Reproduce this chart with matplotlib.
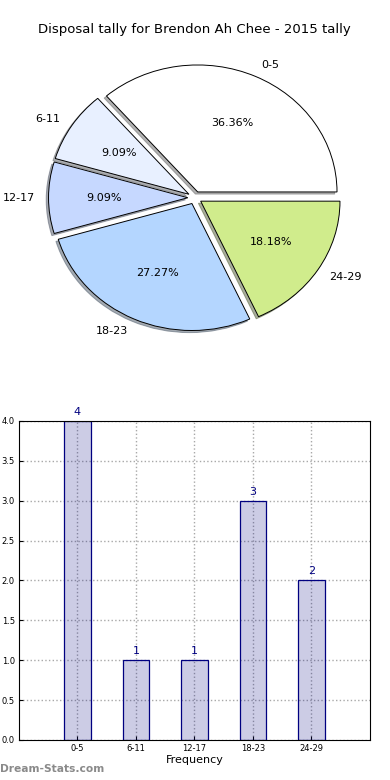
import matplotlib
matplotlib.use("Agg")
import matplotlib.pyplot as plt
import numpy as np

labels = ["0-5", "6-11", "12-17", "18-23", "24-29"]
counts = [4, 1, 1, 3, 2]
colors = ["#ffffff", "#e8f0ff", "#c6d8ff", "#b4d6ff", "#d0ec8c"]

fig = plt.figure(figsize=(3.9, 7.8), dpi=100)

# pie
ax1 = fig.add_axes([0.053, 0.543, 0.893, 0.407])
wedges, texts, autotexts = ax1.pie(counts, labels=labels, colors=colors,
                                   explode=[0.05] * len(counts),
                                   shadow={"ox": -0.012, "oy": -0.012, "shade": 0.6},
                                   autopct="%1.2f%%", startangle=0,
                                   wedgeprops=dict(edgecolor="black", linewidth=0.7),
                                   textprops=dict(fontsize=8))
ax1.set_aspect("auto")
ax1.set_xlim(-1.25, 1.25)
ax1.set_ylim(-1.25, 1.25)
ax1.set_title("Disposal tally for Brendon Ah Chee - 2015 tally", fontsize=9.5, pad=4)

# bars
ax2 = fig.add_axes([0.0487, 0.0513, 0.9, 0.409])
x = np.arange(len(labels))
ax2.bar(x, counts, width=0.45, facecolor=(0, 0, 0.5, 0.2),
        edgecolor="navy", linewidth=0.9, zorder=2)
for xi, c in zip(x, counts):
    ax2.text(xi, c + 0.05, str(c), ha="center", va="bottom", color="navy", fontsize=8)
ax2.set_xlim(-1, 5)
ax2.set_ylim(0, 4)
ax2.set_xticks(x)
ax2.set_xticklabels(labels)
ax2.set_yticks(np.arange(0, 4.01, 0.5))
ax2.tick_params(labelsize=6, direction="in", length=3, pad=3)
ax2.grid(True, linestyle=":", color="#a8a8a8", linewidth=1, zorder=0)
ax2.set_axisbelow(True)
ax2.set_xlabel("Frequency", fontsize=8, labelpad=1)

fig.text(0.0, 0.0075, "Dream-Stats.com", fontsize=7.7, color="#8a8a8a",
         fontweight="bold", ha="left", va="bottom")

fig.savefig("out.png", dpi=100)
